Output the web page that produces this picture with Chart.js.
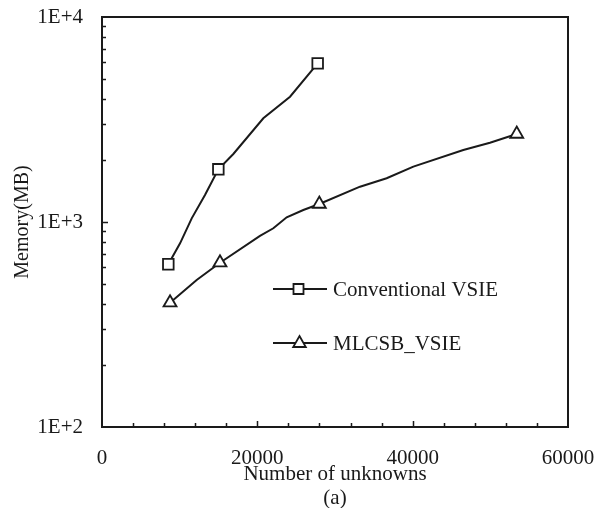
<!DOCTYPE html>
<html>
<head>
<meta charset="utf-8">
<script src="https://cdn.jsdelivr.net/npm/chart.js@4.4.1/dist/chart.umd.min.js"></script>
<style>
  html, body { margin: 0; padding: 0; background: #ffffff; }
  #wrap { width: 605px; height: 508px; }
</style>
</head>
<body>
<div id="wrap"><canvas id="c" width="605" height="508"></canvas></div>
<script>
// ---- data ----
const seriesNames = ["Conventional VSIE", "MLCSB_VSIE"];

// traced curve of Conventional VSIE (unknowns, memory MB)
const convCurveX = [8540, 10050, 11550, 13260, 14980, 16910, 20770, 24210, 27770];
const convCurveY = [622, 787, 1042, 1355, 1807, 2147, 3206, 4087, 5943];
// measured (marked) points of Conventional VSIE
const convMarkX = [8540, 14980, 27770];
const convMarkY = [622, 1807, 5943];

// traced curve of MLCSB_VSIE
const mlcCurveX = [8760, 12190, 15190, 20340, 22060, 23780, 25920, 27980, 33220, 36650, 40090, 46520, 49950, 53400];
const mlcCurveY = [404, 521, 633, 855, 932, 1054, 1144, 1224, 1487, 1634, 1862, 2246, 2436, 2687];
// measured (marked) points of MLCSB_VSIE
const mlcMarkX = [8760, 15190, 27980, 53400];
const mlcMarkY = [404, 633, 1224, 2687];

// axis ticks
const xTickValues = [0, 20000, 40000, 60000];
const yTickValues = [100, 1000, 10000];
const xTitle = "Number of unknowns";
const subCaption = "(a)";
const yTitle = "Memory(MB)";

// ---- helpers ----
const toPts = (xs, ys) => xs.map((x, i) => ({ x: x, y: ys[i] }));
const INK = '#1a1a1a';
const FONT = "'Liberation Serif', 'Times New Roman', Times, serif";

Chart.defaults.font.family = FONT;
Chart.defaults.color = INK;

const framePlugin = {
  id: 'frameTicks',
  afterDatasetsDraw(chart) {
    const ctx = chart.ctx;
    const a = chart.chartArea;
    const xs = chart.scales.x, ys = chart.scales.y;
    ctx.save();
    ctx.strokeStyle = INK;
    // minor/major ticks (inward)
    ctx.lineWidth = 1.5;
    ctx.beginPath();
    for (let v = 4000; v < 60000; v += 4000) {
      const px = Math.round(xs.getPixelForValue(v)) + 0.5;
      const len = (v % 20000 === 0) ? 6 : 4;
      ctx.moveTo(px, a.bottom);
      ctx.lineTo(px, a.bottom - len);
    }
    for (let e = 2; e <= 3; e++) {
      for (let m = 1; m <= 9; m++) {
        const v = m * Math.pow(10, e);
        if (v <= 100 || v >= 10000) continue;
        const py = Math.round(ys.getPixelForValue(v)) + 0.5;
        const len = (m === 1) ? 6 : 4;
        ctx.moveTo(a.left, py);
        ctx.lineTo(a.left + len, py);
      }
    }
    ctx.stroke();
    // frame
    ctx.lineWidth = 2;
    ctx.strokeRect(a.left, a.top, a.right - a.left, a.bottom - a.top);
    ctx.restore();
  },
  afterDraw(chart) {
    const ctx = chart.ctx;
    ctx.save();
    const rows = [
      { name: seriesNames[0], y: 289, style: 'rect' },
      { name: seriesNames[1], y: 343, style: 'tri' }
    ];
    rows.forEach(r => {
      ctx.strokeStyle = INK;
      ctx.lineWidth = 2;
      ctx.beginPath();
      ctx.moveTo(273, r.y);
      ctx.lineTo(327, r.y);
      ctx.stroke();
      ctx.fillStyle = '#ffffff';
      ctx.lineWidth = 1.8;
      ctx.beginPath();
      if (r.style === 'rect') {
        ctx.rect(293.5, r.y - 5, 10, 10);
      } else {
        ctx.moveTo(299.5, r.y - 7);
        ctx.lineTo(305.8, r.y + 4);
        ctx.lineTo(293.2, r.y + 4);
        ctx.closePath();
      }
      ctx.fill();
      ctx.stroke();
      ctx.fillStyle = INK;
      ctx.font = "21px " + FONT;
      ctx.textBaseline = 'middle';
      ctx.textAlign = 'left';
      ctx.fillText(r.name, 333, r.y + 1);
    });
    ctx.restore();
  }
};

const lineStyle = {
  showLine: true,
  borderColor: INK,
  borderWidth: 2,
  pointRadius: 0,
  tension: 0,
  fill: false,
  order: 2
};
const markStyle = {
  showLine: false,
  pointBackgroundColor: '#ffffff',
  pointBorderColor: INK,
  pointBorderWidth: 1.8,
  pointRadius: 7.5,
  order: 1
};

new Chart(document.getElementById('c'), {
  type: 'scatter',
  data: {
    datasets: [
      Object.assign({ label: seriesNames[0], data: toPts(convCurveX, convCurveY) }, lineStyle),
      Object.assign({ label: seriesNames[1], data: toPts(mlcCurveX, mlcCurveY) }, lineStyle),
      Object.assign({ label: seriesNames[0] + ' marks', data: toPts(convMarkX, convMarkY), pointStyle: 'rect' }, markStyle),
      Object.assign({ label: seriesNames[1] + ' marks', data: toPts(mlcMarkX, mlcMarkY), pointStyle: 'triangle' }, markStyle)
    ]
  },
  options: {
    responsive: false,
    devicePixelRatio: 1,
    animation: false,
    layout: { padding: { top: 17, right: 37, left: 0, bottom: 0 } },
    plugins: { legend: { display: false }, tooltip: { enabled: false } },
    scales: {
      x: {
        type: 'linear',
        min: 0, max: 60000,
        grid: { display: false, drawTicks: false },
        border: { display: false },
        afterBuildTicks(s) { s.ticks = xTickValues.map(v => ({ value: v })); },
        afterFit(s) { s.height = 81; s.paddingLeft = 0; s.paddingRight = 0; },
        ticks: {
          autoSkip: false,
          maxRotation: 0,
          padding: 19,
          font: { size: 21 },
          color: INK,
          callback: v => String(v)
        },
        title: {
          display: true,
          text: [xTitle, subCaption],
          font: { size: 21, lineHeight: 1.15 },
          color: INK,
          padding: { top: 0, bottom: -3 }
        }
      },
      y: {
        type: 'logarithmic',
        min: 100, max: 10000,
        grid: { display: false, drawTicks: false },
        border: { display: false },
        afterBuildTicks(s) { s.ticks = yTickValues.map(v => ({ value: v })); },
        afterFit(s) { s.width = 102; s.paddingTop = 0; s.paddingBottom = 0; },
        ticks: {
          autoSkip: false,
          padding: 19,
          font: { size: 21 },
          color: INK,
          callback: v => '1E+' + Math.round(Math.log10(v))
        },
        title: {
          display: true,
          text: yTitle,
          font: { size: 20 },
          color: INK,
          padding: { top: 11, bottom: 0 }
        }
      }
    }
  },
  plugins: [framePlugin]
});
</script>
</body>
</html>
